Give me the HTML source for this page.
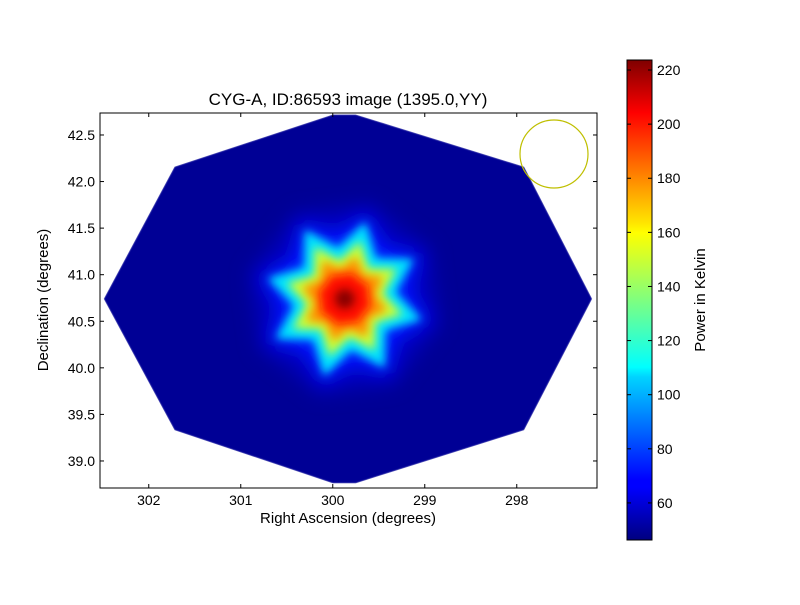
<!DOCTYPE html>
<html><head><meta charset="utf-8"><style>
body{margin:0;background:#fff;}
svg text{font-family:"Liberation Sans","DejaVu Sans",sans-serif;fill:#000;}
</style></head><body>
<svg id="c" width="800" height="600" viewBox="0 0 800 600" xmlns="http://www.w3.org/2000/svg">
<defs>
<filter id="bl" x="-50%" y="-50%" width="200%" height="200%"><feGaussianBlur stdDeviation="9"/></filter>
<filter id="bl2" x="-50%" y="-50%" width="200%" height="200%"><feGaussianBlur stdDeviation="4.5"/></filter>
<filter id="edge" x="-5%" y="-5%" width="110%" height="110%"><feGaussianBlur stdDeviation="0.8"/></filter>
<clipPath id="oct"><polygon id="octp" points=""/></clipPath>
<linearGradient id="jet" x1="0" y1="1" x2="0" y2="0">
<stop offset="0" stop-color="#00007f"/><stop offset="0.11" stop-color="#0000ff"/><stop offset="0.125" stop-color="#0000ff"/><stop offset="0.34" stop-color="#00d4ff"/><stop offset="0.36" stop-color="#0ff"/><stop offset="0.5" stop-color="#7fff7f"/><stop offset="0.64" stop-color="#ff0"/><stop offset="0.66" stop-color="#ffe600"/><stop offset="0.89" stop-color="#ff0000"/><stop offset="1" stop-color="#7f0000"/>
</linearGradient>
</defs>
<text x="348" y="105" font-size="17" text-anchor="middle">CYG-A, ID:86593 image (1395.0,YY)</text>
<g id="img"></g>
<rect x="100" y="113" width="497" height="375" fill="none" stroke="#000" stroke-width="1"/>
<circle cx="554" cy="154" r="34" fill="none" stroke="#bfbf00" stroke-width="1.2"/>
<g id="ax"></g>
<text x="348" y="523" font-size="15" text-anchor="middle">Right Ascension (degrees)</text>
<text transform="translate(48,300) rotate(-90)" font-size="15" text-anchor="middle">Declination (degrees)</text>
<rect x="627" y="60" width="25" height="480" fill="url(#jet)" stroke="#000" stroke-width="1"/>
<g id="cb"></g>
<text transform="translate(705,300) rotate(-90)" font-size="15" text-anchor="middle">Power in Kelvin</text>
</svg>
<script>
const xTicks=[302,301,300,299,298];
const yTicks=[39.0,39.5,40.0,40.5,41.0,41.5,42.0,42.5];
const cbTicks=[60,80,100,120,140,160,180,200,220];
const coverageRA=[300.0,299.75,297.92,297.18,297.92,299.75,300.0,301.72,302.49,301.72];
const coverageDec=[42.72,42.72,42.16,40.74,39.33,38.76,38.76,39.33,40.74,42.16];
const sourceRA=[299.87];
const sourceDec=[40.74];
const levelValues=[56,72,108,148,176,200,222];
const levelTipR=[100,88,80,60,44,27,10];
const levelNotchR=[92,68,52,39,31,24,10];
const bgValue=[50];
const vmin=46.3,vmax=223.7;
const X=v=>100+(302.53-v)*92;
const Y=v=>113+(42.736-v)*93.14;
const CB=v=>540-(v-vmin)/(vmax-vmin)*480;
function jet(v){let t=(v-vmin)/(vmax-vmin);t=Math.max(0,Math.min(1,t));
 const f=(a)=>Math.round(255*Math.max(0,Math.min(1,a)));
 const r=f(Math.min(4*t-1.5,-4*t+4.5)),g=f(Math.min(4*t-0.5,-4*t+3.5)),b=f(Math.min(4*t+0.5,-4*t+2.5));
 return `rgb(${r},${g},${b})`;}
const NS="http://www.w3.org/2000/svg";
function mk(tag,attrs,parent){const e=document.createElementNS(NS,tag);for(const k in attrs)e.setAttribute(k,attrs[k]);parent.appendChild(e);return e;}
const pts=coverageRA.map((r,i)=>X(r)+','+Y(coverageDec[i])).join(' ');
document.getElementById('octp').setAttribute('points',pts);
const img=document.getElementById('img');
const gi=mk('g',{'clip-path':'url(#oct)'},img);
const bg=mk('polygon',{points:pts,fill:jet(bgValue[0]),filter:'url(#edge)'},gi);


const cx=X(sourceRA[0]),cy=Y(sourceDec[0]);
levelValues.forEach((v,i)=>{
 const p=[];for(let k=0;k<16;k++){const a=(15+k*22.5)*Math.PI/180;const r=k%2==0?levelTipR[i]:levelNotchR[i];p.push((cx+r*Math.cos(a)).toFixed(1)+','+(cy+r*Math.sin(a)).toFixed(1));}
 const s=mk('polygon',{points:p.join(' '),fill:jet(v),filter:i<2?'url(#bl)':'url(#bl2)'},gi);
 
 
});
const ax=document.getElementById('ax');
xTicks.forEach(t=>{const x=X(t);
 mk('line',{x1:x,x2:x,y1:488,y2:484,stroke:'#000'},ax);mk('line',{x1:x,x2:x,y1:113,y2:117,stroke:'#000'},ax);
 const tx=mk('text',{x:x,y:505,'font-size':14,'text-anchor':'middle'},ax);tx.textContent=t;
 
 });
yTicks.forEach(t=>{const y=Y(t);
 mk('line',{x1:100,x2:104,y1:y,y2:y,stroke:'#000'},ax);mk('line',{x1:597,x2:593,y1:y,y2:y,stroke:'#000'},ax);
 const tx=mk('text',{x:95,y:y+5,'font-size':14,'text-anchor':'end'},ax);tx.textContent=t.toFixed(1);
 
 });
const cb=document.getElementById('cb');
cbTicks.forEach(t=>{const y=CB(t);
 mk('line',{x1:627,x2:631,y1:y,y2:y,stroke:'#000'},cb);mk('line',{x1:652,x2:648,y1:y,y2:y,stroke:'#000'},cb);
 const tx=mk('text',{x:657,y:y+5,'font-size':14},cb);tx.textContent=t;
 
 });
</script>
</body></html>
